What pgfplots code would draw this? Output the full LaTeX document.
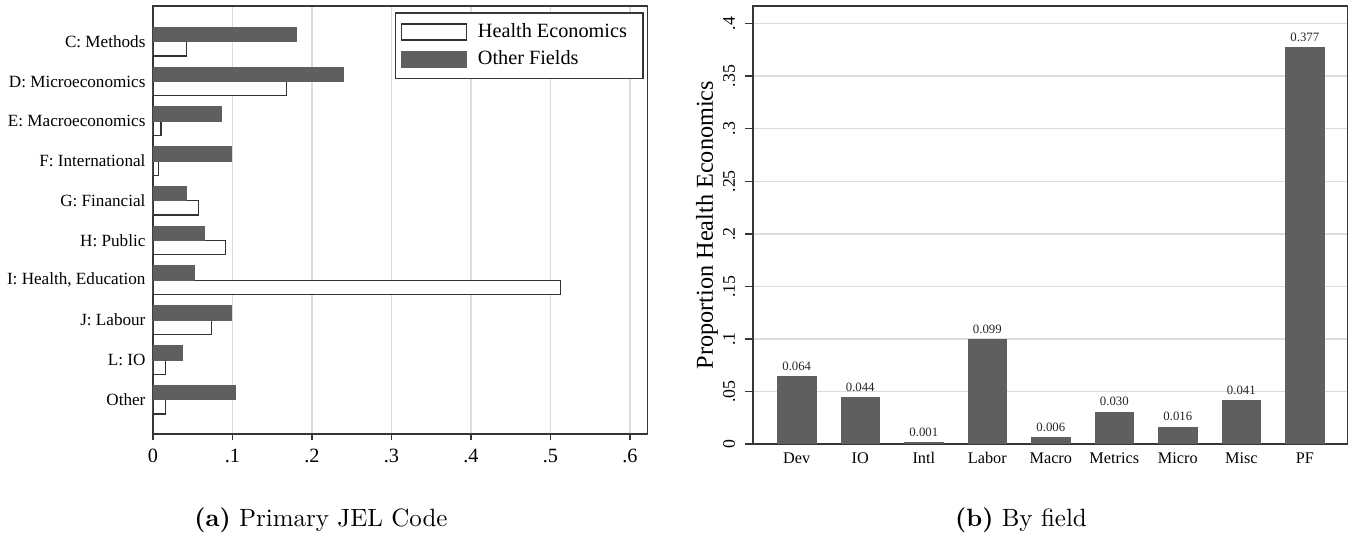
\documentclass[border=0pt]{standalone}
\usepackage{fontspec}
\usepackage{pgfplots}
\pgfplotsset{compat=1.18}
\newfontfamily\cf{Liberation Serif}
\definecolor{barg}{RGB}{95,95,95}
\definecolor{gridg}{RGB}{220,220,220}
\definecolor{framec}{RGB}{55,55,55}
\pgfplotsset{boxleg/.style={legend image code/.code={\draw[##1] (0pt,-3.2pt) rectangle (26pt,3.2pt);}}}
\begin{document}
\begin{tikzpicture}
\useasboundingbox (0,0) rectangle (543.6pt,213.6pt);
\begin{axis}[
  at={(61.2pt,39.9pt)}, anchor=south west,
  scale only axis, width=197.8pt, height=171.3pt,
  xmin=0, xmax=0.622, ymin=-0.87, ymax=9.9,
  xbar, bar width=5.7pt,
  xtick={0,0.1,0.2,0.3,0.4,0.5,0.6}, xticklabels={0,.1,.2,.3,.4,.5,.6},
  ytick={0,1,2,3,4,5,6,7,8,9},
  yticklabels={Other,{L: IO},{J: Labour},{I: Health, Education},{H: Public},{G: Financial},{F: International},{E: Macroeconomics},{D: Microeconomics},{C: Methods}},
  xmajorgrids, grid style={gridg, line width=0.6pt},
  axis line style={framec, line width=0.6pt},
  tick align=outside, xtick pos=bottom, ytick pos=left,
  major tick length=2.3pt,
  tick style={framec, line width=0.6pt},
  ytick style={draw=none},
  xticklabel style={font=\cf\fontsize{8.1}{9}\selectfont},
  yticklabel style={font=\cf\fontsize{6.85}{8}\selectfont, xshift=2.8pt},
  legend style={at={(0.992,0.985)}, anchor=north east, draw=framec, line width=0.5pt, font=\cf\fontsize{8.1}{9}\selectfont, cells={anchor=west}, inner xsep=2.4pt, inner ysep=2pt, row sep=0pt},
]
\addplot[fill=white, draw=black!80, line width=0.5pt, bar shift=-2.85pt, boxleg]
  coordinates {(0.042,9) (0.168,8) (0.010,7) (0.007,6) (0.057,5) (0.091,4) (0.513,3) (0.074,2) (0.016,1) (0.016,0)};
\addlegendentry{\hspace*{2.2pt}Health Economics\hspace*{2pt}}
\addplot[fill=barg, draw=barg, line width=0.5pt, bar shift=2.85pt, boxleg]
  coordinates {(0.180,9) (0.240,8) (0.086,7) (0.099,6) (0.042,5) (0.064,4) (0.052,3) (0.098,2) (0.037,1) (0.103,0)};
\addlegendentry{\hspace*{2.2pt}Other Fields}
\end{axis}
\begin{axis}[
  at={(301.1pt,36pt)}, anchor=south west,
  scale only axis, width=237.8pt, height=175.2pt,
  xmin=-0.693, xmax=8.668, ymin=0, ymax=0.4168,
  ybar, bar width=15.4pt,
  xtick={0,1,2,3,4,5,6,7,8}, xticklabels={Dev,IO,Intl,Labor,Macro,Metrics,Micro,Misc,PF},
  ytick={0,0.05,0.1,0.15,0.2,0.25,0.3,0.35,0.4},
  yticklabels={0,.05,.1,.15,.2,.25,.3,.35,.4},
  ymajorgrids, grid style={gridg, line width=0.6pt},
  axis line style={framec, line width=0.6pt},
  tick align=outside, ytick pos=left, xtick pos=bottom,
  major tick length=3pt,
  tick style={framec, line width=0.6pt},
  xtick style={draw=none},
  xticklabel style={font=\cf\fontsize{6.5}{7.5}\selectfont, yshift=3.1pt},
  yticklabel style={font=\cf\fontsize{7.1}{8}\selectfont, rotate=90, anchor=base, inner sep=0pt},
  yticklabel shift=4.2pt,
  ylabel={Proportion Health Economics},
  ylabel style={at={(axis description cs:-0.0669,0.5)}, anchor=base, font=\cf\fontsize{9.7}{11}\selectfont},
  /pgf/number format/assume math mode=true,
  nodes near coords={\pgfmathprintnumber[fixed,fixed zerofill,precision=3]{\pgfplotspointmeta}},
  every node near coord/.append style={font=\cf\fontsize{5.1}{6}\selectfont, yshift=-1pt, black!85},
]
\addplot[fill=barg, draw=barg, line width=0.4pt]
  coordinates {(0,0.064) (1,0.044) (2,0.001) (3,0.099) (4,0.006) (5,0.030) (6,0.016) (7,0.041) (8,0.377)};
\end{axis}
\node[anchor=base, font=\fontsize{10}{12}\selectfont] at (128.4pt,2.9pt) {\textbf{(a)} Primary JEL Code};
\node[anchor=base, font=\fontsize{10}{12}\selectfont] at (408.4pt,2.9pt) {\textbf{(b)} By field};
\end{tikzpicture}
\end{document}
